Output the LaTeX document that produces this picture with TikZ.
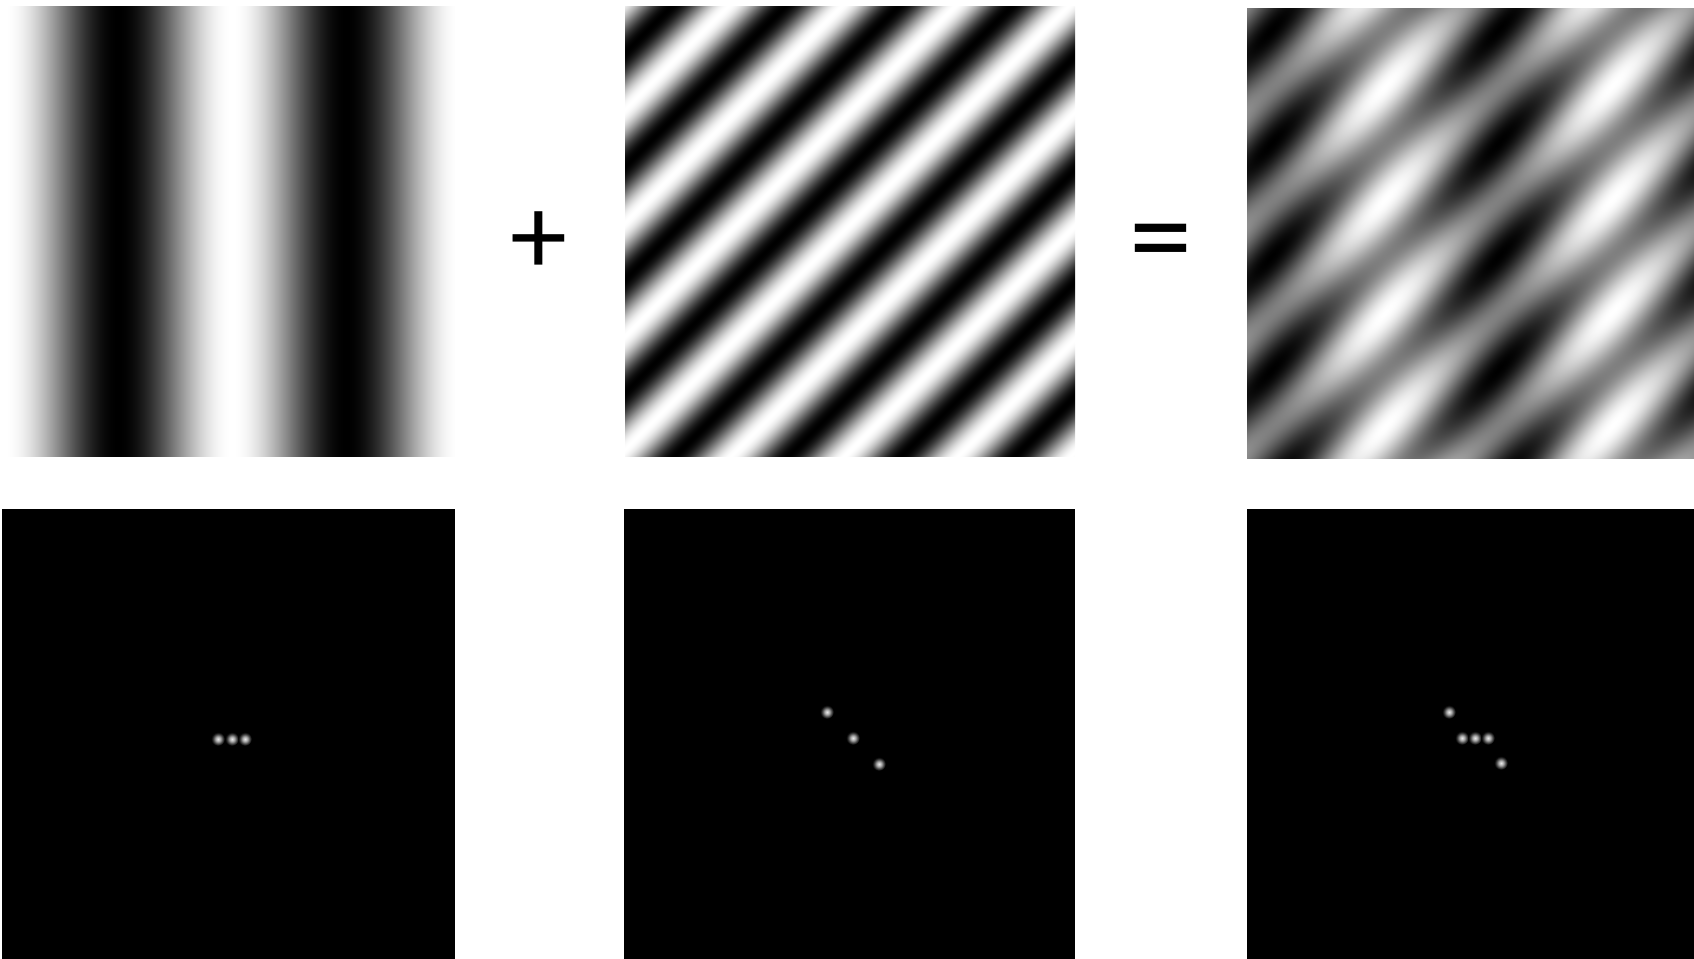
\documentclass[tikz,border=0pt]{standalone}
\usepackage{fontspec}
\setmainfont{Carlito}
\usepackage{xcolor}
\usepackage{tikz}
\definecolor{spotcore}{gray}{0.9}

\pgfdeclarefunctionalshading{gratingv}{\pgfpoint{-25bp}{-25bp}}{\pgfpoint{25bp}{25bp}}{}{
    pop 25 add 9.06 mul 2 sub 1.579 mul cos 0.5 mul 0.5 add dup dup
}
\pgfdeclarefunctionalshading{gratingd}{\pgfpoint{-25bp}{-25bp}}{\pgfpoint{25bp}{25bp}}{}{
    25 exch sub 9.02 mul exch 25 add 9.0 mul add 103 sub 3.1774 mul cos 0.5 mul 0.5 add dup dup
}
\pgfdeclarefunctionalshading{gratingsum}{\pgfpoint{-25bp}{-25bp}}{\pgfpoint{25bp}{25bp}}{}{
    25 exch sub 9.02 mul exch 25 add 8.94 mul dup 3 1 roll add 103 sub 3.1774 mul cos exch 138 sub 1.579 mul cos add 0.25 mul 0.5 add dup dup
}
\pgfdeclareradialshading{spotglow}{\pgfpointorigin}{
    color(0bp)=(spotcore); color(6bp)=(spotcore!85!black); color(12bp)=(spotcore!58!black);
    color(18bp)=(spotcore!26!black); color(25bp)=(black); color(50bp)=(black)
}

\begin{document}
\begin{tikzpicture}[
        x=0.02cm, y=-0.02cm,
        spot/.style={shading=spotglow},
        sign/.style={inner sep=0pt, font=\fontsize{#1}{#1}\selectfont}
    ]
    \useasboundingbox (0,0) rectangle (1694,959);

    % top row
    \shade[shading=gratingv] (2,6) rectangle (455,457);
    \shade[shading=gratingd] (625,6) rectangle (1075,457);
    \shade[shading=gratingsum] (1247,8) rectangle (1694,459);

    \node[sign=65] (plus) at (539,243) {+};
    \node[sign=72] (equals) at (1161,251) {=};

    % bottom row
    \fill[black] (2,509) rectangle (455,959);
    \fill[black] (624,509) rectangle (1075,959);
    \fill[black] (1247,509) rectangle (1694,959);

    \foreach \x/\y in {218/739, 232/739, 245/739,
                       827/712, 853/738, 879/764,
                       1449/712, 1462/738, 1475/738, 1488/738, 1501/763}
        \shade[spot] (\x,\y) circle (6.8);
\end{tikzpicture}
\end{document}
